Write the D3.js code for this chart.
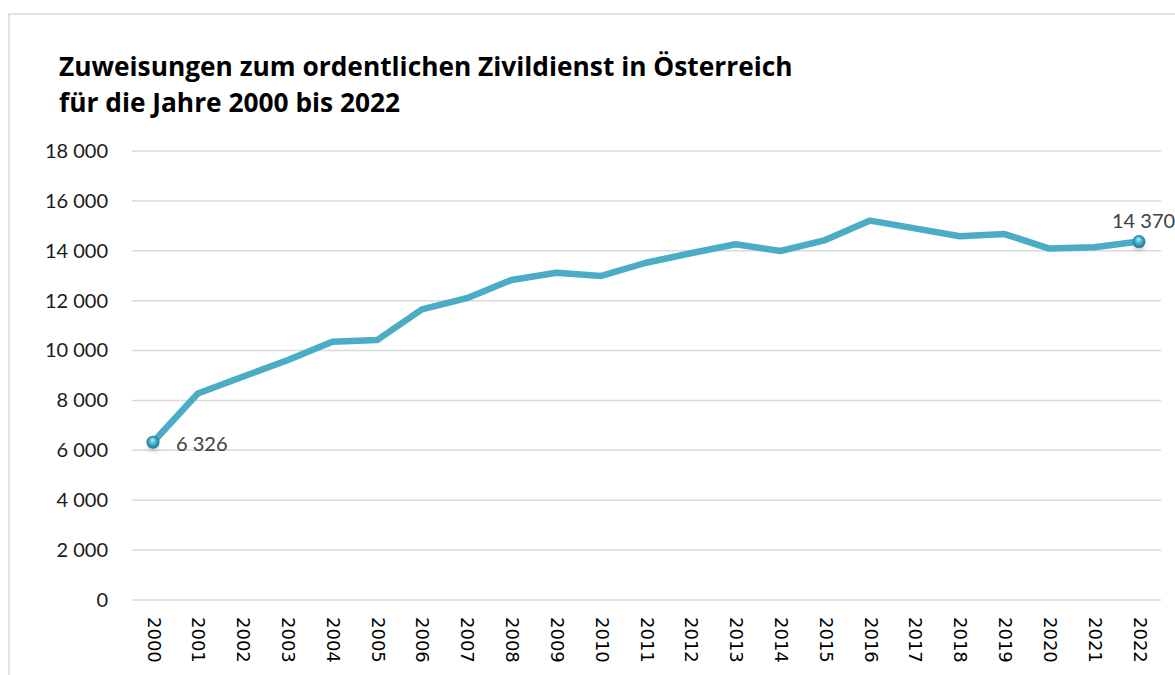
<!DOCTYPE html>
<html lang="de">
<head>
<meta charset="UTF-8">
<title>Zuweisungen zum ordentlichen Zivildienst</title>
<script src="https://d3js.org/d3.v7.min.js"></script>
<style>
    body { margin: 0; background: #fff; }
    svg { display: block; }
</style>
</head>
<body>
<div id="chart"></div>
<script>
// data
const years = ["2000","2001","2002","2003","2004","2005","2006","2007","2008","2009","2010",
               "2011","2012","2013","2014","2015","2016","2017","2018","2019","2020","2021","2022"];
const zuweisungen = [6326, 8280, 8950, 9610, 10350, 10420, 11650, 12100, 12830, 13120, 12990,
                     13520, 13900, 14260, 13990, 14430, 15210, 14900, 14580, 14670, 14090, 14140, 14370];
const yTicks = [0, 2000, 4000, 6000, 8000, 10000, 12000, 14000, 16000, 18000];
const titleLines = ["Zuweisungen zum ordentlichen Zivildienst in Österreich", "für die Jahre 2000 bis 2022"];

const W = 1175, H = 675;
const margin = { top: 151, right: 14, bottom: 75, left: 132 };

const svg = d3.select("#chart").append("svg")
    .attr("width", W)
    .attr("height", H);

// sphere marker gradient
const defs = svg.append("defs");
const grad = defs.append("radialGradient")
    .attr("id", "ball")
    .attr("cx", "50%").attr("cy", "50%").attr("r", "55%")
    .attr("fx", "45%").attr("fy", "30%");
grad.append("stop").attr("offset", "0%").attr("stop-color", "#c4f0fa");
grad.append("stop").attr("offset", "45%").attr("stop-color", "#41b4d2");
grad.append("stop").attr("offset", "100%").attr("stop-color", "#1b6a80");
const blur = defs.append("filter").attr("id", "shadow")
    .attr("x", "-50%").attr("y", "-50%").attr("width", "200%").attr("height", "200%");
blur.append("feGaussianBlur").attr("stdDeviation", 2);

// outer frame
svg.append("rect")
    .attr("x", 9).attr("y", 14)
    .attr("width", W + 20).attr("height", H + 20)
    .attr("fill", "none")
    .attr("stroke", "#d9d9d9")
    .attr("stroke-width", 1.5);

// title
svg.append("g").selectAll("text")
    .data(titleLines)
    .join("text")
    .attr("x", 59)
    .attr("y", (d, i) => 76 + i * 36)
    .attr("font-family", "'Open Sans', sans-serif")
    .attr("font-weight", "bold")
    .attr("font-size", 26.3)
    .attr("fill", "#000")
    .text(d => d);

const x = d3.scalePoint()
    .domain(years)
    .range([153, 1139]);

const y = d3.scaleLinear()
    .domain([0, 18000])
    .range([600, 151]);

const fmt = v => d3.format(",")(v).replace(/,/g, " ");

// gridlines
svg.append("g")
    .selectAll("line")
    .data(yTicks)
    .join("line")
    .attr("x1", margin.left)
    .attr("x2", 1161)
    .attr("y1", d => y(d))
    .attr("y2", d => y(d))
    .attr("stroke", "#d9d9d9")
    .attr("stroke-width", 1.5);

// y axis
const yAxis = svg.append("g")
    .attr("transform", "translate(" + 108 + ",0)")
    .call(d3.axisLeft(y).tickValues(yTicks).tickFormat(fmt).tickSize(0).tickPadding(0));
yAxis.select(".domain").remove();
yAxis.selectAll("text")
    .attr("font-family", "Lato, 'Open Sans', sans-serif")
    .attr("font-size", 20)
    .attr("fill", "#1a1a1a");

// x axis
const xAxis = svg.append("g")
    .attr("transform", "translate(0," + 600 + ")")
    .call(d3.axisBottom(x).tickSize(0));
xAxis.select(".domain").remove();
xAxis.selectAll("text")
    .attr("font-family", "'DejaVu Sans', sans-serif")
    .attr("font-size", 18)
    .attr("fill", "#000")
    .attr("text-anchor", "start")
    .attr("dy", null)
    .attr("y", 0)
    .attr("transform", "translate(0,17) rotate(90) translate(0,6)");

// line
const points = years.map((yr, i) => ({ year: yr, value: zuweisungen[i] }));
const line = d3.line()
    .x(d => x(d.year))
    .y(d => y(d.value));

svg.append("path")
    .datum(points)
    .attr("d", line)
    .attr("fill", "none")
    .attr("stroke", "#4bacc6")
    .attr("stroke-width", 6.5)
    .attr("stroke-linejoin", "round");

// end markers
const ends = [points[0], points[points.length - 1]];
svg.append("g").selectAll("ellipse")
    .data(ends)
    .join("ellipse")
    .attr("cx", d => x(d.year))
    .attr("cy", d => y(d.value) + 6)
    .attr("rx", 6).attr("ry", 3)
    .attr("fill", "#999")
    .attr("opacity", 0.5)
    .attr("filter", "url(#shadow)");
svg.append("g").selectAll("circle")
    .data(ends)
    .join("circle")
    .attr("cx", d => x(d.year))
    .attr("cy", d => y(d.value))
    .attr("r", 6.5)
    .attr("fill", "url(#ball)");

// data labels
svg.append("text")
    .attr("x", x(ends[0].year) + 23)
    .attr("y", y(ends[0].value) + 9)
    .attr("font-family", "Lato, 'Open Sans', sans-serif")
    .attr("font-size", 20)
    .attr("fill", "#404040")
    .text(fmt(ends[0].value));
svg.append("text")
    .attr("x", x(ends[1].year) - 27)
    .attr("y", y(ends[1].value) - 14)
    .attr("font-family", "Lato, 'Open Sans', sans-serif")
    .attr("font-size", 20)
    .attr("fill", "#404040")
    .text(fmt(ends[1].value));
</script>
</body>
</html>
